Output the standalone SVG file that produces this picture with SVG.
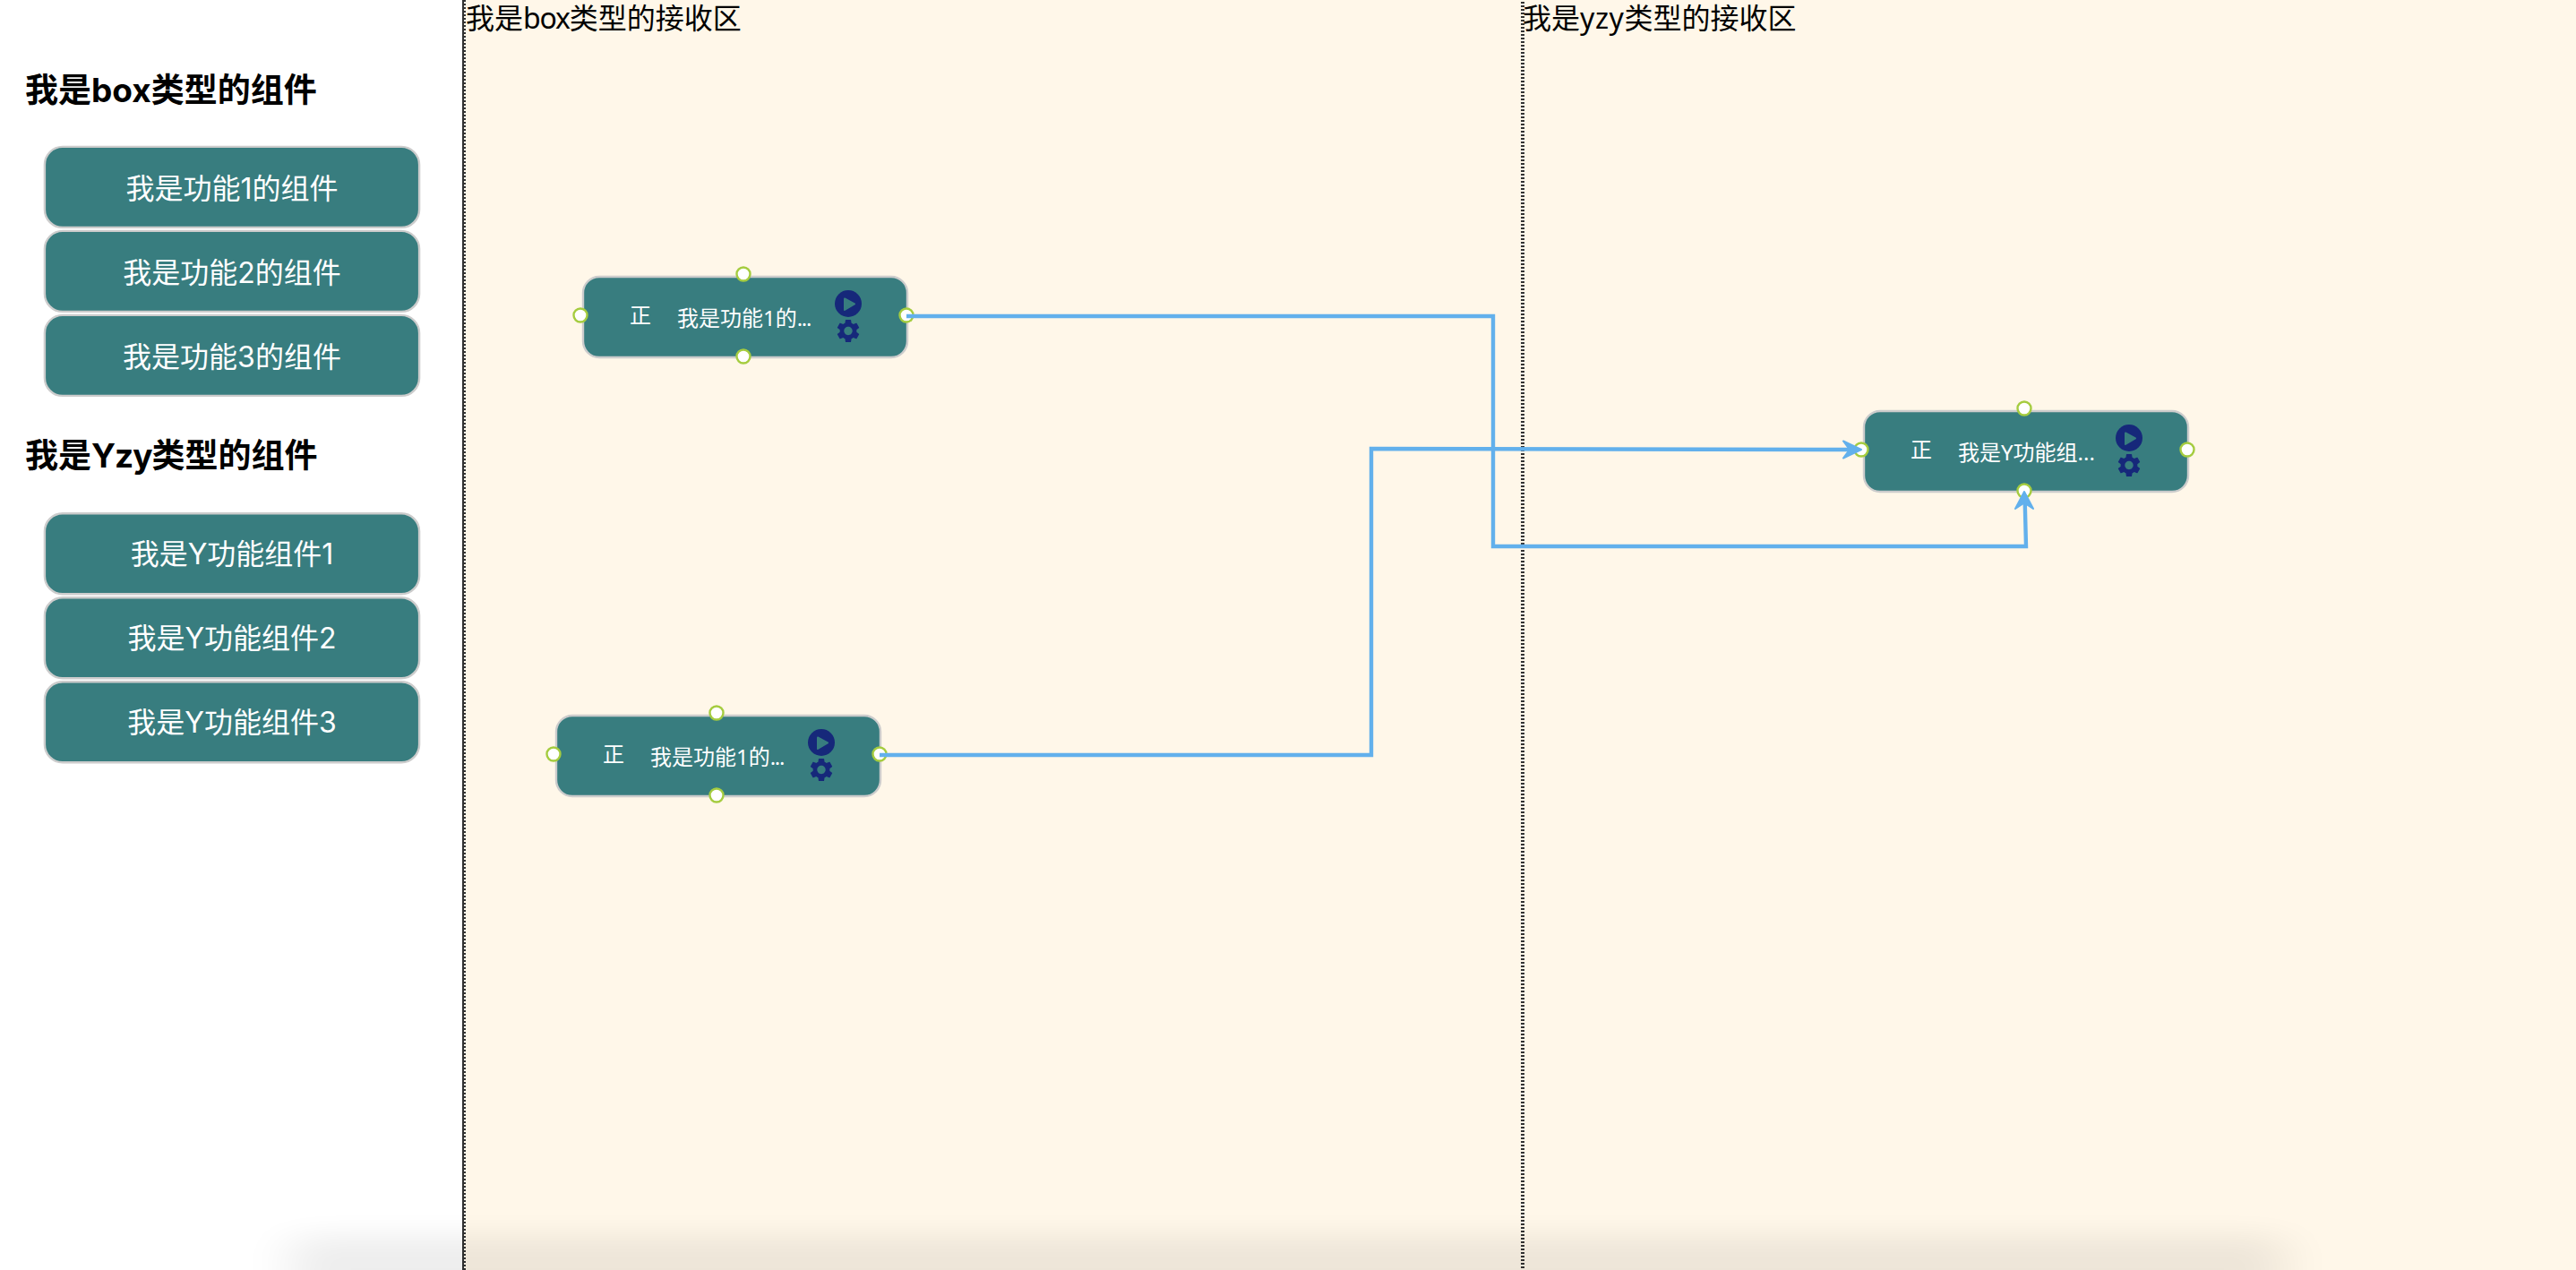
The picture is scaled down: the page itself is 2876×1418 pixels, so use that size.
<svg xmlns="http://www.w3.org/2000/svg" width="2876" height="1418" viewBox="0 0 2876 1418">
<style>
.title{font:bold 37px Inter,"Noto Sans CJK SC",sans-serif;fill:#000}
.latin-tight{letter-spacing:-1px}
.zone-label{font:32px "Noto Sans","Noto Sans CJK SC",sans-serif;fill:#000}
.card{fill:#387d7f;stroke:#cccccc;stroke-width:2.400}
.card-text{font:32px Inter,"Noto Sans CJK SC",sans-serif;fill:#fff;text-anchor:middle}
.node-text{font:24px "Noto Sans","Noto Sans CJK SC",sans-serif;fill:#fff}
.dots{letter-spacing:-1.300px}
.port{fill:#fff;stroke:#a5cc3f;stroke-width:2.400}
.icon{fill:#16287a}
.conn{fill:none;stroke:#62b0ec;stroke-width:4.400}
.head{fill:#62b0ec;stroke:#62b0ec;stroke-width:2;stroke-linejoin:round}
</style>
<defs>
<filter id="blur" x="-10%" y="-200%" width="120%" height="500%"><feGaussianBlur stdDeviation="28 15"/></filter>
<g id="node-body">
<rect class="card" x="0" y="0" width="362" height="90" rx="18"/>
<circle class="icon" cx="296" cy="30" r="15"/>
<path d="M292 24.500L303 30.500L292 37Z" fill="#387d7f" stroke="#387d7f" stroke-width="2" stroke-linejoin="round"/>
<path class="icon" transform="translate(280.400,44.900) scale(1.3)" d="M19.14 12.94c.04-.3.06-.61.06-.94 0-.32-.02-.64-.07-.94l2.03-1.58c.18-.14.23-.41.12-.61l-1.92-3.32c-.12-.22-.37-.29-.59-.22l-2.39.96c-.5-.38-1.03-.7-1.62-.94l-.36-2.54c-.04-.24-.24-.41-.48-.41h-3.84c-.24 0-.43.17-.47.41l-.36 2.54c-.59.24-1.13.57-1.62.94l-2.39-.96c-.22-.08-.47 0-.59.22L2.74 8.87c-.12.21-.08.47.12.61l2.03 1.58c-.05.3-.09.63-.09.94s.02.64.07.94l-2.03 1.58c-.18.14-.23.41-.12.61l1.92 3.32c.12.22.37.29.59.22l2.39-.96c.5.38 1.03.7 1.62.94l.36 2.54c.05.24.24.41.48.41h3.84c.24 0 .44-.17.47-.41l.36-2.54c.59-.24 1.13-.56 1.62-.94l2.39.96c.22.08.47 0 .59-.22l1.92-3.32c.12-.22.07-.47-.12-.61l-2.01-1.58zM12 15.6c-1.98 0-3.6-1.62-3.6-3.6s1.62-3.6 3.6-3.6 3.6 1.62 3.6 3.6-1.62 3.6-3.6 3.6z"/>
<circle class="port" cx="179" cy="-3" r="7.500"/>
<circle class="port" cx="-3" cy="43" r="7.500"/>
<circle class="port" cx="361" cy="43" r="7.500"/>
<circle class="port" cx="179" cy="89" r="7.500"/>
</g>
</defs>
<rect width="2876" height="1418" fill="#fff"/>
<g id="zones">
<rect id="zone-box" x="518" y="0" width="2358" height="1418" fill="#fff7e9"/>
<rect x="516" y="0" width="2" height="1418" fill="#333"/>
<line x1="519" y1="0" x2="519" y2="1418" stroke="#333" stroke-width="2" stroke-dasharray="2 2"/>
<line x1="1700" y1="2" x2="1700" y2="1418" stroke="#333" stroke-width="4" stroke-dasharray="2 2"/>
<text class="zone-label" x="520" y="32">我是<tspan letter-spacing="-1.200">box</tspan>类型的接收区</text>
<text class="zone-label" x="1700" y="32">我是<tspan letter-spacing="0.600">yzy</tspan>类型的接收区</text>
</g>
<g id="palette-box">
<text class="title" x="28" y="114">我是box类型的组件</text>
<g id="card-1"><rect class="card" x="49.900" y="163.900" width="418.200" height="90" rx="20"/><text class="card-text" x="259" y="222">我是功能1的组件</text></g>
<g id="card-2"><rect class="card" x="49.900" y="257.900" width="418.200" height="90" rx="20"/><text class="card-text" x="259" y="316">我是功能2的组件</text></g>
<g id="card-3"><rect class="card" x="49.900" y="351.900" width="418.200" height="90" rx="20"/><text class="card-text" x="259" y="410">我是功能3的组件</text></g>
</g>
<g id="palette-yzy">
<text class="title" x="28" y="522">我是<tspan class="latin-tight">Yzy</tspan>类型的组件</text>
<g id="card-y1"><rect class="card" x="49.900" y="573.200" width="418.200" height="90" rx="20"/><text class="card-text" x="259" y="630">我是Y功能组件1</text></g>
<g id="card-y2"><rect class="card" x="49.900" y="667.200" width="418.200" height="90" rx="20"/><text class="card-text" x="259" y="724">我是Y功能组件2</text></g>
<g id="card-y3"><rect class="card" x="49.900" y="761.200" width="418.200" height="90" rx="20"/><text class="card-text" x="259" y="818">我是Y功能组件3</text></g>
</g>
<g id="node-a" transform="translate(651,309)"><use href="#node-body"/><text class="node-text" x="52" y="52">正</text><text class="node-text" x="105" y="55">我是功能1的<tspan class="dots">...</tspan></text></g>
<g id="node-b" transform="translate(621,799)"><use href="#node-body"/><text class="node-text" x="52" y="52">正</text><text class="node-text" x="105" y="55">我是功能1的<tspan class="dots">...</tspan></text></g>
<g id="node-c" transform="translate(2081,459)"><use href="#node-body"/><text class="node-text" x="52" y="52">正</text><text class="node-text" x="105" y="55">我是Y功能组...</text></g>
<g id="connectors">
<path class="conn" d="M1012 353H1667V610H2262L2260.500 552"/>
<path class="conn" d="M982 843H1531V501L2070 502"/>
<path class="head" d="M2078 502L2058 492.500L2065 502L2058 511.500Z"/>
<path class="head" d="M2260 549L2250 568L2260 561.500L2270 568Z"/>
</g>
<rect id="bottom-shadow" x="325" y="1380" width="2225" height="140" fill="#000" opacity=".066" filter="url(#blur)"/>
</svg>
